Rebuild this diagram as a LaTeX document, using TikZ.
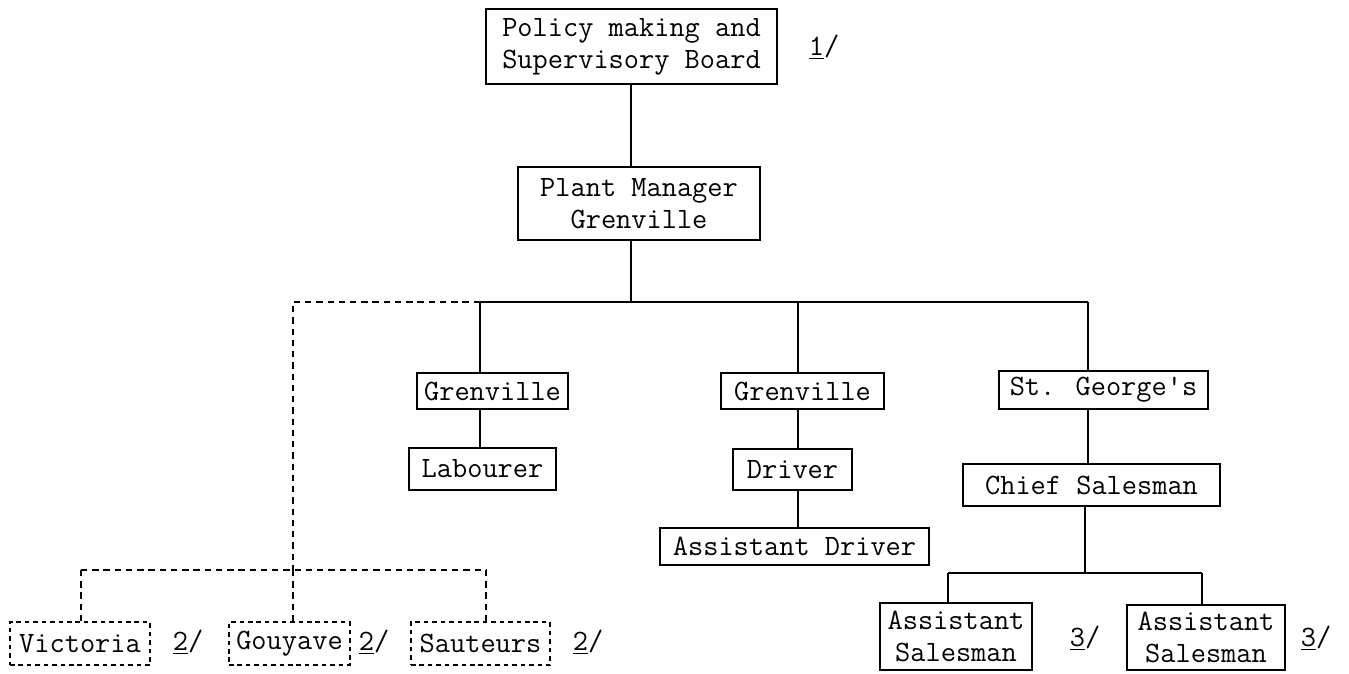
\documentclass[tikz,border=0pt]{standalone}
\usepackage{fontspec}
\begin{document}
\begin{tikzpicture}[x=0.02cm,y=-0.02cm,
  font=\ttfamily\fontsize{16.8}{18.2}\selectfont,
  orgbox/.style 2 args={draw, line width=1.2pt, inner sep=0pt, align=center,
     minimum width=#1*0.02cm, minimum height=#2*0.02cm},
  dbox/.style 2 args={orgbox={#1}{#2}, dash pattern=on 2.6pt off 2.2pt, line width=1.1pt},
  conn/.style={line width=1.4pt},
  dconn/.style={line width=1.3pt, dash pattern=on 3.6pt off 2.8pt},
  note/.style={inner sep=0pt}]
\useasboundingbox (0,0) rectangle (1349,673);

% nodes
\node[orgbox={291}{75}] (top) at (631.5,46.5) {Policy making and\\Supervisory Board};
\node[note] (n1) at (824,47) {\underline{1}/};
\node[orgbox={242}{73}] (plant) at (639,203.5) {Plant Manager\\Grenville};

\node[orgbox={151}{36}] (g1) at (492.5,391) {Grenville};
\node[orgbox={147}{42}] (lab) at (482.5,469) {Labourer};

\node[orgbox={163}{36}] (g2) at (802.5,391) {Grenville};
\node[orgbox={119}{41}] (drv) at (792.5,469.5) {Driver};
\node[orgbox={269}{37}] (adrv) at (794.5,546.5) {Assistant Driver};

\node[orgbox={209}{38}] (stg) at (1103.5,390) {St. George's};
\node[orgbox={257}{42}] (chief) at (1091.5,485) {Chief Salesman};
\node[orgbox={152}{67}] (as1) at (956,636.5) {Assistant\\Salesman};
\node[orgbox={158}{65}] (as2) at (1206,637.5) {Assistant\\Salesman};
\node[note] (n3a) at (1085,638) {\underline{3}/};
\node[note] (n3b) at (1316,638) {\underline{3}/};

\node[dbox={140}{43}] (vic) at (80,643.5) {Victoria};
\node[dbox={121}{43}] (gou) at (289.5,643.5) {Gouyave};
\node[dbox={139}{43}] (sau) at (480.5,643.5) {Sauteurs};
\node[note] (n2a) at (188,642) {\underline{2}/};
\node[note] (n2b) at (374,642) {\underline{2}/};
\node[note] (n2c) at (588,642) {\underline{2}/};

% junction coordinates
\coordinate (b0) at (631,302);
\coordinate (bL) at (480,302);
\coordinate (bM) at (798,302);
\coordinate (bR) at (1088,302);
\coordinate (dC) at (293,302);
\coordinate (dJ) at (293,570);
\coordinate (dL) at (81,570);
\coordinate (dR) at (486,570);
\coordinate (sJ) at (1085,573);
\coordinate (sL) at (948,573);
\coordinate (sR) at (1202,573);

% solid connectors
\draw[conn] (top.south -| b0) -- (plant.north -| b0);
\draw[conn] (plant.south -| b0) -- (b0);
\draw[conn] (bL) -- (bR);
\draw[conn] (bL) -- (g1.north -| bL);
\draw[conn] (g1.south -| bL) -- (lab.north -| bL);
\draw[conn] (bM) -- (g2.north -| bM);
\draw[conn] (g2.south -| bM) -- (drv.north -| bM);
\draw[conn] (drv.south -| bM) -- (adrv.north -| bM);
\draw[conn] (bR) -- (stg.north -| bR);
\draw[conn] (stg.south -| bR) -- (chief.north -| bR);
\draw[conn] (chief.south -| sJ) -- (sJ);
\draw[conn] (sL) -- (sR);
\draw[conn] (sL) -- (as1.north -| sL);
\draw[conn] (sR) -- (as2.north -| sR);

% dashed connectors
\draw[dconn] (bL) -- (dC) -- (dJ);
\draw[dconn] (dL) -- (dR);
\draw[dconn] (dL) -- (vic.north -| dL);
\draw[dconn] (dJ) -- (gou.north -| dJ);
\draw[dconn] (dR) -- (sau.north -| dR);
\end{tikzpicture}
\end{document}
